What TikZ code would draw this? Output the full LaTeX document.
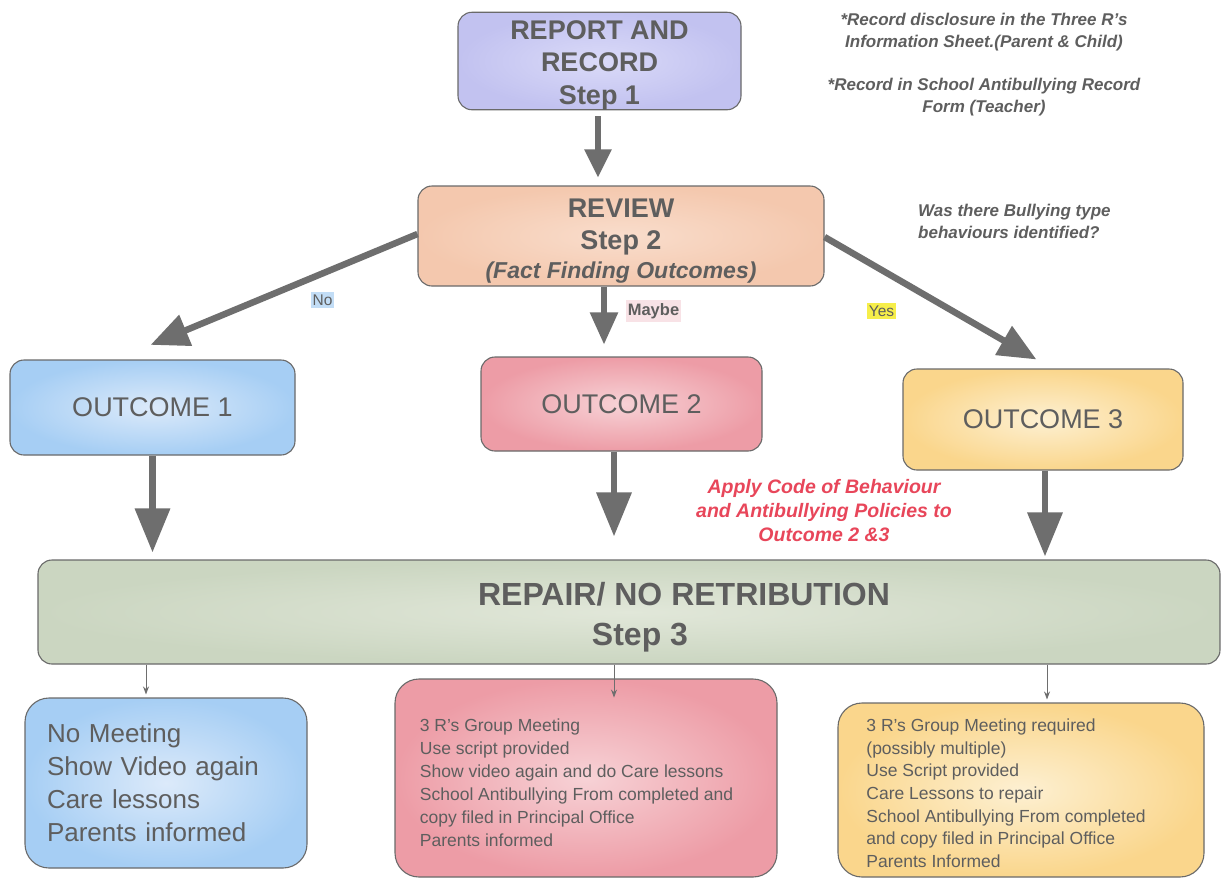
\documentclass[tikz,border=0pt]{standalone}
\usepackage{fontspec}
\setmainfont{Liberation Sans}
\usetikzlibrary{arrows.meta,calc}
\definecolor{txt}{HTML}{5E5E5E}
\definecolor{arr}{HTML}{6E6E6E}
\definecolor{edge}{HTML}{6A6A6A}
\definecolor{lavA}{HTML}{C2C2F0}\definecolor{lavB}{HTML}{DADAF8}
\definecolor{peaA}{HTML}{F4C8AE}\definecolor{peaB}{HTML}{F9DDCC}
\definecolor{bluA}{HTML}{A6CEF4}\definecolor{bluB}{HTML}{DCEAFA}
\definecolor{redA}{HTML}{ED9CA6}\definecolor{redB}{HTML}{F7D2D6}
\definecolor{yelA}{HTML}{FAD68C}\definecolor{yelB}{HTML}{FDF0D2}
\definecolor{grnA}{HTML}{CBD6C1}\definecolor{grnB}{HTML}{E1E7D9}
\definecolor{notered}{HTML}{E8465A}
\definecolor{nobg}{HTML}{C2DDF6}
\definecolor{maybebg}{HTML}{F8E2E6}
\definecolor{yesbg}{HTML}{F6EE4A}
\newcommand{\lines}[2][0pt]{\raisebox{#1}[\height][\depth]{\begin{tabular}{@{}c@{}}#2\end{tabular}}}
\newcommand{\llines}[2][0pt]{\raisebox{#1}[\height][\depth]{\begin{tabular}{@{}l@{}}#2\end{tabular}}}
\begin{document}
\begin{tikzpicture}[x=1pt,y=-1pt,
  box/.style={draw=edge,line width=1.1pt,rounded corners=14pt,inner sep=0pt,text=txt},
  bigarrow/.style={draw=arr,line width=6.5pt,-{Triangle[width=34pt,length=44pt]},arr},
  midarrow/.style={draw=arr,line width=5.5pt,-{Triangle[width=27pt,length=32pt]},arr},
  thinarrow/.style={draw=arr,line width=0.9pt,-{Stealth[width=6pt,length=8pt]}},
  note/.style={text=txt,font=\fontsize{17}{22}\selectfont\bfseries\itshape},
  lbl/.style={text=txt,font=\fontsize{15.5}{18}\selectfont,inner xsep=1.5pt,inner ysep=3pt}
]
\clip (0,0) rectangle (1221,879);
\fill[white] (0,0) rectangle (1221,879);

% Step 1
\node[box,inner color=lavB,outer color=lavA,minimum width=283pt,minimum height=94pt,
  font=\fontsize{27}{32.5}\selectfont\bfseries] (s1) at (599.5,61)
  {\lines[-4pt]{REPORT AND\\RECORD\\Step 1}};

% Step 2
\node[box,inner color=peaB,outer color=peaA,minimum width=406pt,minimum height=100pt,
  font=\fontsize{27}{32}\selectfont\bfseries] (s2) at (621,236)
  {\lines[-6pt]{REVIEW\\Step 2\\[-3pt]{\fontsize{23}{28}\selectfont\itshape (Fact Finding Outcomes)}}};

% Outcomes
\node[box,inner color=bluB,outer color=bluA,minimum width=285pt,minimum height=95pt,
  font=\fontsize{27}{32}\selectfont] (o1) at (152.5,407.5) {OUTCOME 1};
\node[box,inner color=redB,outer color=redA,minimum width=281pt,minimum height=94pt,
  font=\fontsize{27}{32}\selectfont] (o2) at (621.5,404) {OUTCOME 2};
\node[box,inner color=yelB,outer color=yelA,minimum width=280pt,minimum height=101pt,
  font=\fontsize{27}{32}\selectfont] (o3) at (1043,419.5) {OUTCOME 3};

% Step 3
\node[box,inner color=grnB,outer color=grnA,minimum width=1182pt,minimum height=104pt,
  font=\fontsize{32}{40}\selectfont\bfseries] (s3) at (629,612)
  {\lines[-5pt]{\hspace*{110pt}REPAIR/ NO RETRIBUTION\\\hspace*{22pt}Step 3}};

% Bottom boxes
\node[box,rounded corners=24pt,inner color=bluB,outer color=bluA,minimum width=282pt,minimum height=170pt,
  text width=238pt,align=left,font=\fontsize{26}{33}\selectfont] (b1) at (166,783)
  {No Meeting\\Show Video again\\Care lessons\\Parents informed};
\node[box,rounded corners=24pt,inner color=redB,outer color=redA,minimum width=382pt,minimum height=198pt,
  font=\fontsize{17.5}{23}\selectfont] (b2) at (586,778)
  {\hspace*{-19pt}\llines[-6pt]{3 R's Group Meeting\\Use script provided\\Show video again and do Care lessons\\
   School Antibullying From completed and\\copy filed in Principal Office\\Parents informed}};
\node[box,rounded corners=24pt,inner color=yelB,outer color=yelA,minimum width=366pt,minimum height=174pt,
  font=\fontsize{17.5}{22.7}\selectfont] (b3) at (1021,790)
  {\llines[-5pt]{3 R's Group Meeting required\\(possibly multiple)\\Use Script provided\\Care Lessons to repair\\
   School Antibullying From completed\\and copy filed in Principal Office\\Parents Informed}\hspace*{30pt}};

% Notes
\node[note,align=center] (n1) at (984,64.5)
  {*Record disclosure in the Three R's\\Information Sheet.(Parent \& Child)\\[21pt]
   *Record in School Antibullying Record\\Form (Teacher)};
\node[note,align=left,anchor=west,inner sep=0pt] (n2) at (918,221)
  {Was there Bullying type\\behaviours identified?};
\node[text=notered,align=center,font=\fontsize{19.5}{24}\selectfont\bfseries\itshape] (n3) at (824,511)
  {Apply Code of Behaviour\\and Antibullying Policies to\\Outcome 2 \&3};

% Labels
\node[lbl,fill=nobg] (lno) at (322.5,300) {No};
\node[lbl,fill=maybebg,font=\fontsize{16.5}{18}\selectfont\bfseries] (lmaybe) at (653.5,311) {Maybe};
\node[lbl,fill=yesbg] (lyes) at (881.5,311) {Yes};

% Connectors
\draw[midarrow,shorten <=6pt,shorten >=8pt,-{Triangle[width=26pt,length=28pt]}] ([xshift=-1.5pt]s1.south) -- ([xshift=-1.5pt]s1.south |- s2.north);
\draw[bigarrow,-{Triangle[width=32pt,length=38pt]},shorten >=38pt] ([yshift=2pt]s2.west) -- ([xshift=-37pt]o1.north);
\draw[midarrow,shorten >=12pt] ([xshift=-17pt]s2.south) -- ([xshift=-17pt]s2.south |- o2.north);
\draw[bigarrow,-{Triangle[width=32pt,length=38pt]},shorten >=18pt] ([yshift=-1pt]s2.east) -- ([xshift=9pt]o3.north);
\draw[bigarrow,shorten >=7pt] (o1.south) -- (o1.south |- s3.north);
\draw[bigarrow,shorten >=23pt] ([xshift=-7.5pt]o2.south) -- ([xshift=-7.5pt]o2.south |- s3.north);
\draw[bigarrow,shorten >=3pt] ([xshift=2pt]o3.south) -- ([xshift=2pt]o3.south |- s3.north);
\draw[thinarrow,shorten >=3pt] (s3.south -| 146,0) -- (b1.north -| 146,0);
\draw[thinarrow] (s3.south -| 614,0) -- ++(0,33);
\draw[thinarrow,shorten >=3pt] (s3.south -| 1047,0) -- (b3.north -| 1047,0);
\end{tikzpicture}
\end{document}
